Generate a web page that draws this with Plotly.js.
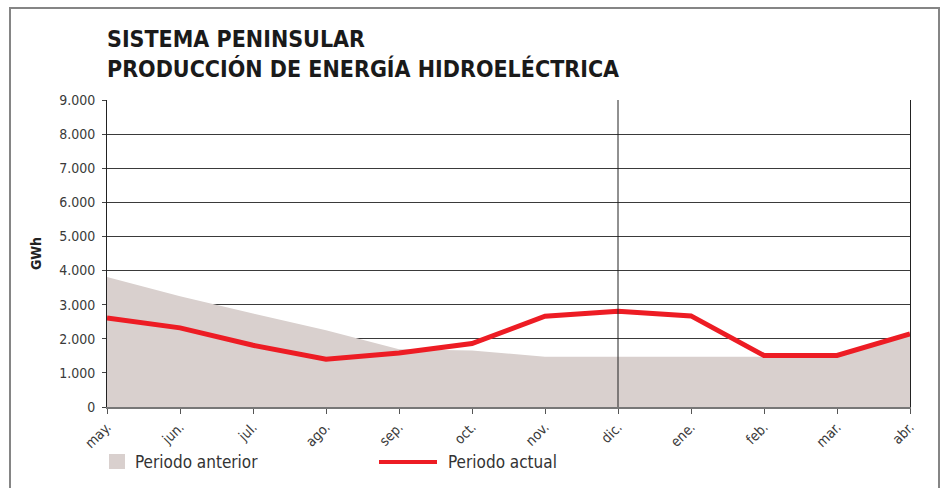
<!DOCTYPE html>
<html>
<head>
<meta charset="utf-8">
<script src="https://cdn.plot.ly/plotly-3.0.1.min.js"></script>
<style>
html,body{margin:0;padding:0;background:#fff;}
#wrap{position:relative;width:944px;height:488px;overflow:hidden;}
#chart{width:944px;height:488px;}
#frame{position:absolute;left:9px;top:7px;width:927px;height:500px;border:2px solid #858585;pointer-events:none;}
</style>
</head>
<body>
<div id="wrap"><div id="chart"></div><div id="frame"></div></div>
<script>
// Data
const months = ["may.","jun.","jul.","ago.","sep.","oct.","nov.","dic.","ene.","feb.","mar.","abr."];
const periodoAnterior = [3810, 3250, 2740, 2250, 1690, 1660, 1470, 1470, 1470, 1470, 1470, 2130];
const periodoActual   = [2610, 2320, 1810, 1400, 1580, 1860, 2660, 2810, 2670, 1510, 1510, 2140];
const yTicks = [0,1000,2000,3000,4000,5000,6000,7000,8000,9000];
const titleLines = ["SISTEMA PENINSULAR", "PRODUCCIÓN DE ENERGÍA HIDROELÉCTRICA"];
const legendNames = ["Periodo anterior", "Periodo actual"];
const dividerMonth = "dic.";

const W = 944, H = 488;
const M = {l:107, r:34, t:100, b:81};
const PW = W - M.l - M.r, PH = H - M.t - M.b;
const px = x => (x - M.l) / PW;
const py = y => (H - M.b - y) / PH;

const FONT = "Liberation Sans Narrow, Arial Narrow, DejaVu Sans Condensed, sans-serif";
const RED = "#ed1c24";
const FILL = "#d9d0ce";

const traces = [
  {x: months, y: periodoAnterior, type: "scatter", mode: "lines", name: legendNames[0],
   fill: "tozeroy", fillcolor: FILL, line: {width: 0, color: FILL}, showlegend: false, hoverinfo: "skip"},
  {x: months, y: periodoActual, type: "scatter", mode: "lines", name: legendNames[1],
   line: {width: 5, color: RED}, showlegend: false}
];

const layout = {
  width: W, height: H,
  margin: M,
  paper_bgcolor: "#fff", plot_bgcolor: "#fff",
  separators: ",.",
  font: {family: FONT, color: "#333", size: 14},
  title: {
    text: titleLines.join("<br>"),
    font: {family: FONT, size: 23, color: "#1a1a1a", weight: "bold"},
    xref: "container", x: M.l / W, xanchor: "left",
    yref: "container", y: 1 - 47 / H, yanchor: "top"
  },
  xaxis: {
    type: "category", range: [0, months.length - 1],
    showgrid: false, showline: true, linecolor: "#777", linewidth: 1.5,
    ticks: "outside", ticklen: 5, tickcolor: "#555", tickwidth: 1,
    tickangle: -45, tickfont: {family: FONT, size: 14, color: "#3a3a3a"},
    fixedrange: true
  },
  yaxis: {
    range: [0, 9000], tickvals: yTicks, tickformat: ",d",
    showgrid: true, gridcolor: "#3a3a3a", gridwidth: 1,
    showline: true, linecolor: "#222", linewidth: 1, mirror: true,
    zeroline: false,
    ticks: "outside", ticklen: 4, tickcolor: "#444", ticklabelstandoff: 4,
    tickfont: {family: FONT, size: 14, color: "#3a3a3a"},
    title: {text: "GWh", font: {family: FONT, size: 14, color: "#222", weight: "bold"}, standoff: 14},
    fixedrange: true
  },
  shapes: [
    {type: "line", xref: "x", yref: "paper", x0: dividerMonth, x1: dividerMonth, y0: 0, y1: 1,
     line: {color: "#222", width: 1}, layer: "above"},
    {type: "rect", xref: "paper", yref: "paper", x0: px(109), x1: px(125), y0: py(469), y1: py(454),
     line: {width: 0}, fillcolor: FILL},
    {type: "line", xref: "paper", yref: "paper", x0: px(379), x1: px(437), y0: py(462), y1: py(462),
     line: {color: RED, width: 4}}
  ],
  annotations: [
    {xref: "paper", yref: "paper", x: px(133), y: py(462), xanchor: "left", yanchor: "middle",
     text: legendNames[0], showarrow: false, font: {family: FONT, size: 17, color: "#333"}},
    {xref: "paper", yref: "paper", x: px(446), y: py(462), xanchor: "left", yanchor: "middle",
     text: legendNames[1], showarrow: false, font: {family: FONT, size: 17, color: "#333"}}
  ],
  showlegend: false
};

Plotly.newPlot("chart", traces, layout, {displayModeBar: false, staticPlot: true});
</script>
</body>
</html>
